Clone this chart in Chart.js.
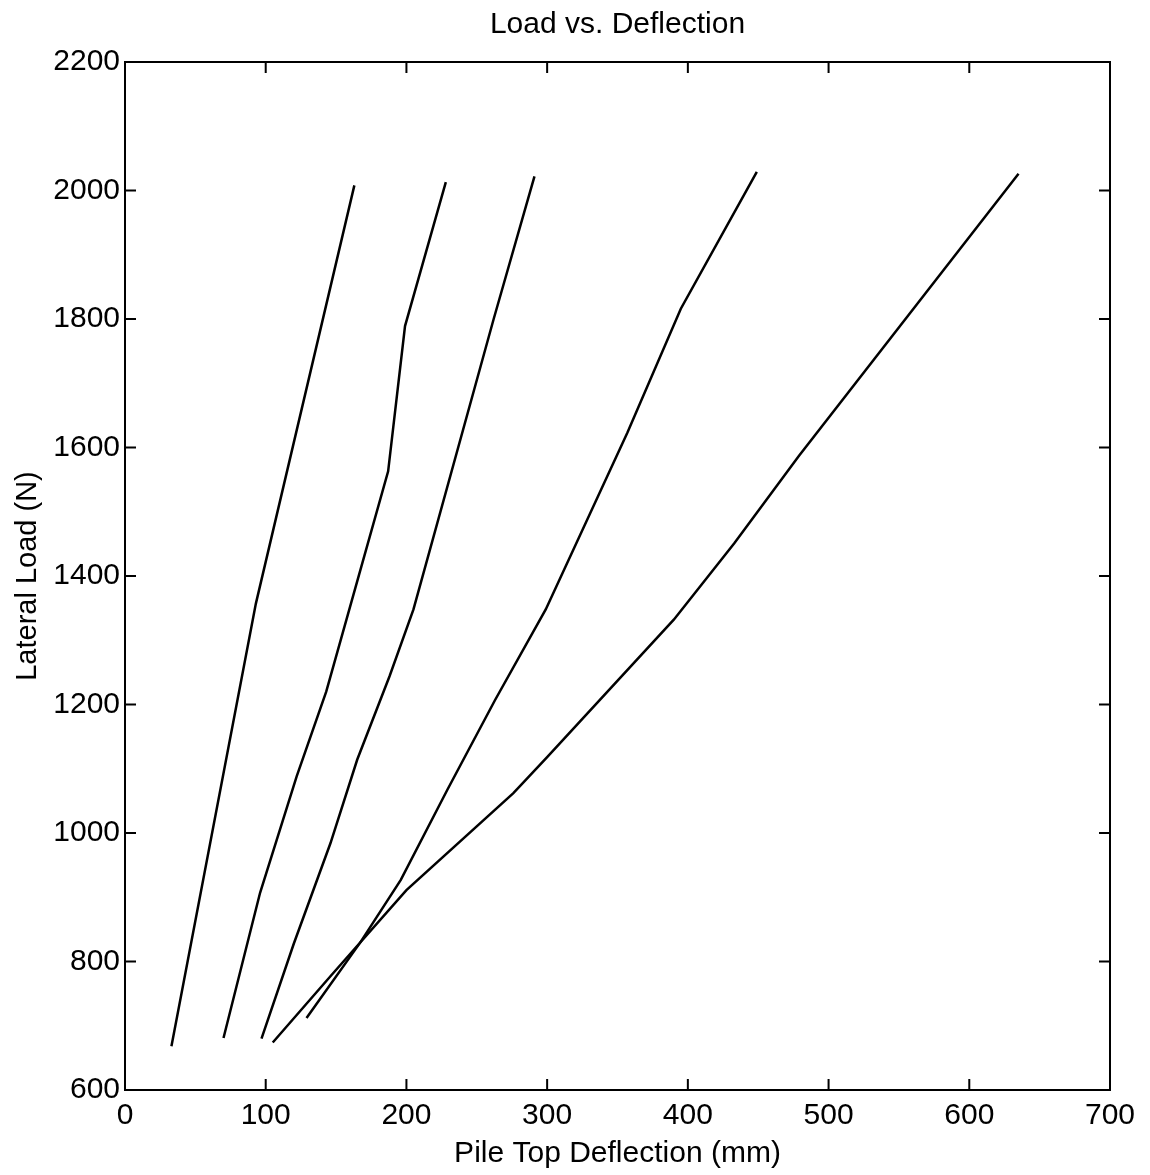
<!DOCTYPE html>
<html>
<head>
<meta charset="utf-8">
<title>Load vs. Deflection</title>
<script src="https://cdn.jsdelivr.net/npm/chart.js@4.4.1/dist/chart.umd.min.js"></script>
<style>
  html, body { margin: 0; padding: 0; background: #fff; }
  #wrap { width: 1150px; height: 1175px; }
</style>
</head>
<body>
<div id="wrap"><canvas id="grafico"></canvas></div>
<script>
// Valores (deflexão em mm, carga em N)
const curva1X = [33, 93, 163];
const curva1Y = [668, 1357, 2008];
const curva2X = [70, 96, 122, 143, 168, 187, 199, 228];
const curva2Y = [681, 907, 1088, 1220, 1415, 1563, 1789, 2013];
const curva3X = [97, 120, 146, 165, 188, 205, 262, 291];
const curva3Y = [680, 828, 984, 1114, 1244, 1348, 1800, 2022];
const curva4X = [129, 167, 196, 229, 263, 299, 357, 395, 449];
const curva4Y = [712, 829, 927, 1067, 1207, 1348, 1623, 1816, 2029];
const curva5X = [105, 146, 200, 276, 300, 390, 433, 479, 635];
const curva5Y = [674, 777, 911, 1062, 1118, 1332, 1451, 1587, 2026];

const ticksX = [0, 100, 200, 300, 400, 500, 600, 700];
const ticksY = [600, 800, 1000, 1200, 1400, 1600, 1800, 2000, 2200];

(function () {
  const FONTE = "'Liberation Sans', Arial, Helvetica, sans-serif";
  const PRETO = '#000';

  function pontos(xs, ys) { return xs.map((x, i) => ({ x: x, y: ys[i] })); }

  const series = [
    [curva1X, curva1Y], [curva2X, curva2Y], [curva3X, curva3Y],
    [curva4X, curva4Y], [curva5X, curva5Y]
  ];

  // caixa estilo MATLAB com marcas de escala para dentro nos quatro lados
  const caixa = {
    id: 'caixa',
    afterDraw(chart) {
      const { ctx, chartArea: a, scales } = chart;
      const L = 11;
      ctx.save();
      ctx.strokeStyle = PRETO;
      ctx.lineWidth = 2;
      ctx.strokeRect(a.left, a.top, a.right - a.left, a.bottom - a.top);
      ctx.beginPath();
      ticksX.forEach((v) => {
        const px = scales.x.getPixelForValue(v);
        ctx.moveTo(px, a.bottom); ctx.lineTo(px, a.bottom - L);
        ctx.moveTo(px, a.top); ctx.lineTo(px, a.top + L);
      });
      ticksY.forEach((v) => {
        const py = scales.y.getPixelForValue(v);
        ctx.moveTo(a.left, py); ctx.lineTo(a.left + L, py);
        ctx.moveTo(a.right, py); ctx.lineTo(a.right - L, py);
      });
      ctx.stroke();
      ctx.restore();
    }
  };

  new Chart(document.getElementById('grafico'), {
    type: 'scatter',
    data: {
      datasets: series.map((s, i) => ({
        label: 'Curva ' + (i + 1),
        data: pontos(s[0], s[1]),
        showLine: true,
        borderColor: PRETO,
        borderWidth: 2.5,
        pointRadius: 0,
        tension: 0,
        fill: false
      }))
    },
    options: {
      responsive: true,
      maintainAspectRatio: false,
      animation: false,
      layout: { padding: { left: 0, right: 40, top: 0, bottom: 0 } },
      plugins: {
        legend: { display: false },
        tooltip: { enabled: false },
        title: {
          display: true,
          fullSize: false,   // centraliza sobre a área do gráfico
          text: 'Load vs. Deflection',
          color: PRETO,
          font: { family: FONTE, size: 30, weight: 'normal' },
          padding: { top: 7, bottom: 19 }
        }
      },
      scales: {
        x: {
          type: 'linear',
          min: 0, max: 700,
          afterBuildTicks(s) { s.ticks = ticksX.map((v) => ({ value: v })); },
          afterFit(s) { s.height = 85; },
          grid: { display: false, drawTicks: false },
          border: { display: false },
          ticks: { color: PRETO, padding: 8, maxRotation: 0, font: { family: FONTE, size: 30 }, callback: (v) => String(v) },
          title: {
            display: true, text: 'Pile Top Deflection (mm)', color: PRETO,
            font: { family: FONTE, size: 30 }, padding: { top: 0, bottom: 3 }
          }
        },
        y: {
          type: 'linear',
          min: 600, max: 2200,
          afterBuildTicks(s) { s.ticks = ticksY.map((v) => ({ value: v })); },
          afterFit(s) { s.width = 125; },
          grid: { display: false, drawTicks: false },
          border: { display: false },
          ticks: { color: PRETO, padding: 5, font: { family: FONTE, size: 30 }, callback: (v) => String(v) },
          title: {
            display: true, text: 'Lateral Load (N)', color: PRETO,
            font: { family: FONTE, size: 29 }, padding: { top: 11, bottom: 0 }
          }
        }
      }
    },
    plugins: [caixa]
  });
})();
</script>
</body>
</html>
